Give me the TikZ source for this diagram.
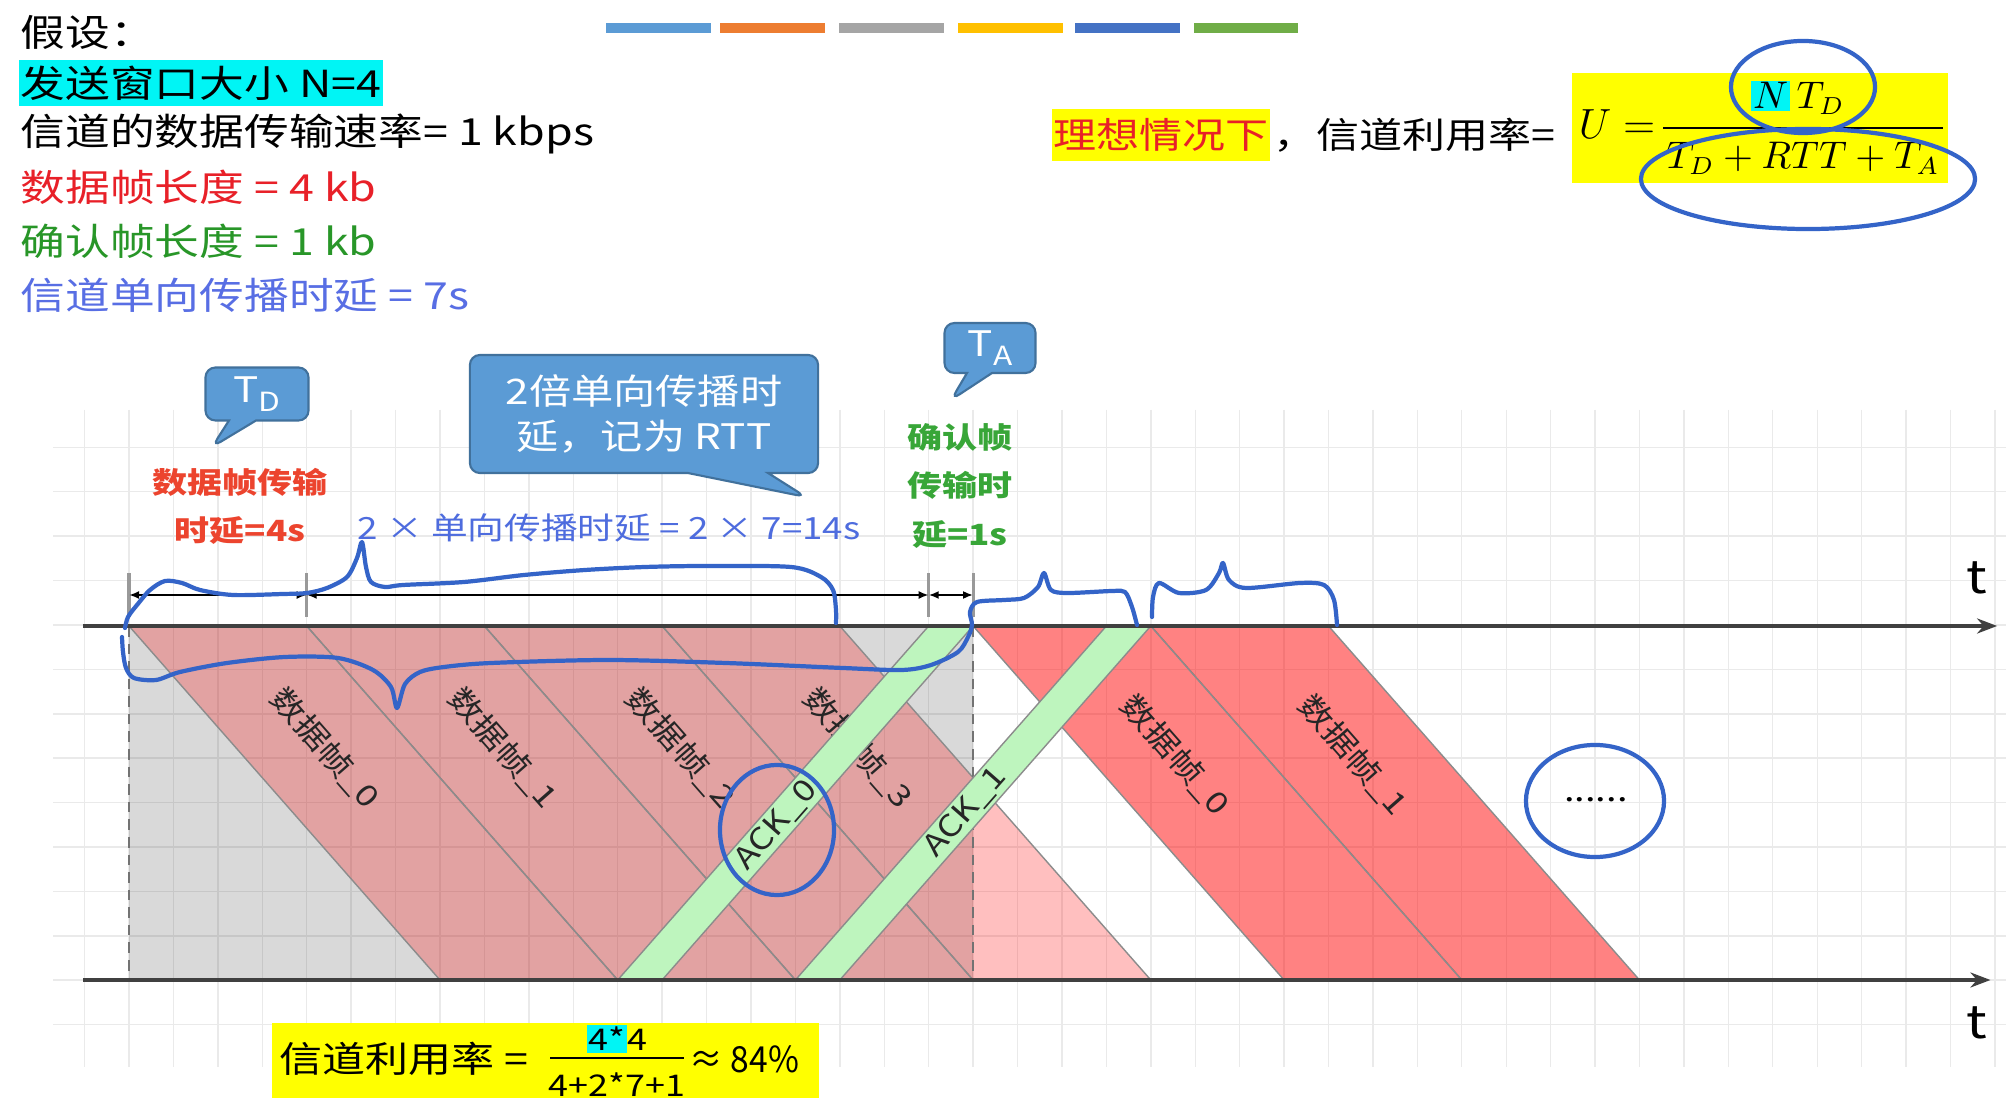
\documentclass[tikz,border=0pt]{standalone}
\usepackage{fontspec}
\setmainfont{Noto Sans CJK SC}[FakeStretch=1.2]
\usetikzlibrary{arrows.meta,shapes.callouts,positioning}

\definecolor{stripA}{RGB}{91,155,213}
\definecolor{stripB}{RGB}{237,125,49}
\definecolor{stripC}{RGB}{165,165,165}
\definecolor{stripD}{RGB}{255,192,0}
\definecolor{stripE}{RGB}{68,114,196}
\definecolor{stripF}{RGB}{112,173,71}
\definecolor{txtred}{RGB}{232,32,40}
\definecolor{txtgreen}{RGB}{40,150,40}
\definecolor{txtblue}{RGB}{88,110,228}
\definecolor{lblred}{RGB}{236,68,46}
\definecolor{lblgreen}{RGB}{56,166,56}
\definecolor{lblblue}{RGB}{78,108,222}
\definecolor{hlcyan}{RGB}{0,245,245}
\definecolor{hlyellow}{RGB}{255,255,0}
\definecolor{bubblefill}{RGB}{91,155,213}
\definecolor{bubbleline}{RGB}{65,113,156}
\definecolor{gridgray}{RGB}{234,234,234}
\definecolor{ackgreen}{RGB}{190,245,190}
\definecolor{penblue}{RGB}{52,100,200}

\tikzset{
  txt/.style={inner sep=0pt, font=\fontsize{10.6}{12}\selectfont},
  mathtxt/.style={inner sep=0pt, font=\fontsize{10.5}{12}\selectfont},
  gridline/.style={draw=gridgray, line width=0.4pt},
  frameedge/.style={draw=black!45, line width=0.4pt},
  waitarea/.style={fill=black, fill opacity=0.15},
  oldframe/.style={frameedge, fill=red, fill opacity=0.25},
  newframe/.style={frameedge, fill=red, fill opacity=0.49},
  ackframe/.style={frameedge, fill=ackgreen},
  framelbl/.style={inner sep=0pt, text=black!85, font=\fontsize{8.5}{10}\selectfont, rotate=-48.7},
  acklbl/.style={inner sep=0pt, text=black!85, font=\fontsize{8.5}{10}\selectfont, rotate=48.7},
  waitline/.style={draw=black!55, densely dashed, line width=0.5pt},
  axisline/.style={draw=black!75, line width=1pt, -{Stealth[length=0.2cm, width=0.15cm]}},
  axislbl/.style={inner sep=0pt, font=\fontsize{13}{14}\selectfont},
  tickline/.style={draw=black!40, line width=0.9pt},
  dimline/.style={line width=0.6pt, {Latex[length=0.1cm, width=0.08cm]}-{Latex[length=0.1cm, width=0.08cm]}},
  delaylbl/.style={inner sep=0pt, align=center, font=\fontsize{8.3}{13.7}\selectfont\bfseries},
  bubble/.style={rectangle callout, fill=bubblefill, draw=bubbleline, line width=0.6pt,
    rounded corners=0.1cm, text=white, inner sep=0pt},
  pen/.style={draw=penblue, line width=1.2pt, line cap=round, line join=round},
}

\begin{document}
\begin{tikzpicture}[x=0.01cm, y=-0.01cm]
\useasboundingbox (0,0) rectangle (2006,1110);
\fill[white] (0,0) rectangle (2006,1110);

% colour strip
\fill[stripA] (606,23) rectangle (711,33);
\fill[stripB] (720,23) rectangle (825,33);
\fill[stripC] (839,23) rectangle (944,33);
\fill[stripD] (958,23) rectangle (1063,33);
\fill[stripE] (1075,23) rectangle (1180,33);
\fill[stripF] (1194,23) rectangle (1298,33);

% given values
\node[txt, anchor=west] (given) at (20,32) {假设：};
\node[txt, anchor=west, fill=hlcyan, minimum height=0.46cm, inner xsep=0.02cm] (window) at (18,83) {发送窗口大小 N=4};
\node[txt, anchor=west] (rate) at (20,134) {信道的数据传输速率= 1 kbps};
\node[txt, anchor=west, text=txtred] (dlen) at (20,187) {数据帧长度 = 4 kb};
\node[txt, anchor=west, text=txtgreen] (alen) at (20,241) {确认帧长度 = 1 kb};
\node[txt, anchor=west, text=txtblue] (prop) at (20,295) {信道单向传播时延 = 7s};

% ideal utilisation
\node[txt, font=\fontsize{10.2}{12}\selectfont, fill=hlyellow, text=txtred, minimum height=0.52cm, inner xsep=0.01cm] (ideal) at (1161,135) {理想情况下};
\node[txt, font=\fontsize{10.2}{12}\selectfont, right=0.02cm of ideal] (utext) {，信道利用率=};
\node[fill=hlyellow, minimum width=3.75cm, minimum height=1.1cm, inner sep=0pt] (ubox) at (1760,128) {};
\node[mathtxt, font=\fontsize{11.5}{13}\selectfont, anchor=base east] (uvar) at (1656,139) {$U =$};
\node[mathtxt, anchor=base] (unum) at (1798,109) {{\setlength{\fboxsep}{0.5pt}\colorbox{hlcyan}{$N$}}$\,T_D$};
\coordinate (ubarL) at (1663,128);
\coordinate (ubarR) at (1943,128);
\draw[line width=0.8pt] (ubarL) -- (ubarR);
\node[mathtxt, anchor=base] (uden) at (1803,169) {$T_D + RTT + T_A$};

% time diagram, x in seconds
\begin{scope}[shift={(129,0)}, x=0.444cm]
  \foreach \k in {-1,...,42}
    \draw[gridline] (\k,410) -- (\k,1067);
  \foreach \j in {-4,...,9}
    \draw[gridline] (-1.71,{625+44.4*\j}) -- (42.27,{625+44.4*\j});

  \fill[waitarea] (0,626) rectangle (19,980);
  \foreach \i in {0,...,3}
    \draw[oldframe] ({4*\i},626) -- ({4*\i+4},626) -- ({4*\i+11},980) -- ({4*\i+7},980) -- cycle;
  \foreach \i in {0,1}
    \draw[newframe] ({19+4*\i},626) -- ({23+4*\i},626) -- ({30+4*\i},980) -- ({26+4*\i},980) -- cycle;
  \draw[waitline] (0,626) -- (0,980);
  \draw[waitline] (19,626) -- (19,980);

  \node[framelbl] (f0) at (4.41,748) {数据帧\_0};
  \node[framelbl] (f1) at (8.41,748) {数据帧\_1};
  \node[framelbl] (f2) at (12.41,748) {数据帧\_2};
  \node[framelbl] (f3) at (16.41,748) {数据帧\_3};
  \node[framelbl] (g0) at (23.55,755) {数据帧\_0};
  \node[framelbl] (g1) at (27.55,755) {数据帧\_1};

  \draw[ackframe] (11,980) -- (12,980) -- (19,626) -- (18,626) -- cycle;
  \draw[ackframe] (15,980) -- (16,980) -- (23,626) -- (22,626) -- cycle;
  \node[acklbl] (k0) at (14.57,825) {ACK\_0};
  \node[acklbl] (k1) at (18.82,812) {ACK\_1};

  \node[inner sep=0pt, font=\fontsize{9}{10}\selectfont] (more) at (33.02,800) {......};

  % sender and receiver time axes
  \coordinate (sendL) at (-1.04,626);
  \coordinate (sendR) at (42.05,626);
  \coordinate (recvL) at (-1.04,980);
  \coordinate (recvR) at (41.9,980);
  \draw[axisline] (sendL) -- (sendR);
  \draw[axisline] (recvL) -- (recvR);
  \node[axislbl] (tsend) at (41.6,578) {t};
  \node[axislbl] (trecv) at (41.6,1023) {t};

  % delays
  \draw[tickline] (0,573) -- (0,617);
  \draw[tickline] (4,573) -- (4,617);
  \draw[tickline] (18,573) -- (18,617);
  \draw[tickline] (19,573) -- (19,617);
  \coordinate (d0) at (0,595);
  \coordinate (d4) at (4,595);
  \coordinate (d18) at (18,595);
  \coordinate (d19) at (19,595);
  \draw[dimline] (d0) -- (d4);
  \draw[dimline] (d4) -- (d18);
  \draw[dimline] (d18) -- (d19);
\end{scope}

\node[delaylbl, text=lblred] (tdtext) at (240,506) {数据帧传输\\时延=4s};
\node[inner sep=0pt, text=lblblue, font=\fontsize{8.7}{10}\selectfont] (rtttext) at (609,528) {2 × 单向传播时延 = 2 × 7=14s};
\node[delaylbl, text=lblgreen] (tatext) at (960,486) {确认帧\\传输时\\延=1s};

% callouts
\coordinate (tdtip) at (212,447);
\coordinate (rtttip) at (806,497);
\coordinate (tatip) at (951,400);
\node[bubble, minimum width=1.03cm, minimum height=0.53cm, callout absolute pointer={(tdtip)}, callout pointer width=0.27cm,
  font=\fontsize{10}{12}\selectfont] (tdbubble) at (257,394) {T\raisebox{-0.5ex}{\fontsize{7.5}{8}\selectfont D}};
\node[bubble, minimum width=3.48cm, minimum height=1.18cm, align=center, callout absolute pointer={(rtttip)}, callout pointer width=0.8cm,
  font=\fontsize{10}{12.8}\selectfont] (rttbubble) at (644,414) {2倍单向传播时\\延，记为 RTT};
\node[bubble, minimum width=0.91cm, minimum height=0.5cm, callout absolute pointer={(tatip)}, callout pointer width=0.25cm,
  font=\fontsize{10}{12}\selectfont] (tabubble) at (990,348) {T\raisebox{-0.5ex}{\fontsize{7.5}{8}\selectfont A}};

% result
\node[fill=hlyellow, minimum width=5.47cm, minimum height=0.75cm, inner sep=0pt] (rbox) at (545.5,1060.5) {};
\node[txt, font=\fontsize{10.2}{12}\selectfont, anchor=west] (rtext) at (279,1059) {信道利用率 =};
\node[inner sep=0pt, font=\fontsize{8.5}{10}\selectfont] (rnum) at (617,1039) {{\setlength{\fboxsep}{0.5pt}\colorbox{hlcyan}{4*}}4};
\coordinate (rbarL) at (550,1058);
\coordinate (rbarR) at (684,1058);
\draw[line width=0.8pt] (rbarL) -- (rbarR);
\node[inner sep=0pt, font=\fontsize{8.5}{10}\selectfont] (rden) at (617,1085) {4+2*7+1};
\node[txt, font=\fontsize{10.2}{12}\selectfont, anchor=west] (rval) at (689,1059) {\scalebox{0.78}[1]{≈ 84\%}};

% pen marks
\draw[pen] plot[smooth, tension=0.5] coordinates {(125,628) (128,617) (137,605) (150,590) (165,581) (182,583) (200,590)
  (233,595) (283,594) (307,593) (327,588) (347,577) (357,558) (362,542) (366,567) (371,582) (385,587) (403,585)
  (464,582) (524,575) (585,570) (645,567) (706,566) (791,567) (821,577) (833,590) (836,610) (836,623)};
\draw[pen] plot[smooth, tension=0.5] coordinates {(122,637) (123,652) (126,668) (134,678) (156,680) (180,672) (227,663)
  (285,657) (338,658) (373,670) (391,687) (397,708) (405,684) (420,672) (444,667) (491,663) (608,660) (726,663)
  (843,668) (902,670) (931,665) (958,652) (968,637) (972,625) (970,612) (977,602) (1004,600) (1024,598) (1038,587)
  (1044,573) (1051,590) (1068,593) (1112,591) (1125,592) (1132,607) (1137,625)};
\draw[pen] plot[smooth, tension=0.5] coordinates {(1152,617) (1153,597) (1159,583) (1179,593) (1206,590) (1219,573)
  (1223,563) (1229,580) (1246,588) (1300,583) (1324,585) (1334,600) (1337,625)};
\draw[pen] (1803,87) ellipse [x radius=0.72cm, y radius=0.46cm];
\draw[pen] (1808,179) ellipse [x radius=1.67cm, y radius=0.5cm];
\draw[pen] (777,830) ellipse [x radius=0.57cm, y radius=0.65cm];
\draw[pen] (1595,801) ellipse [x radius=0.69cm, y radius=0.56cm];
\end{tikzpicture}
\end{document}
